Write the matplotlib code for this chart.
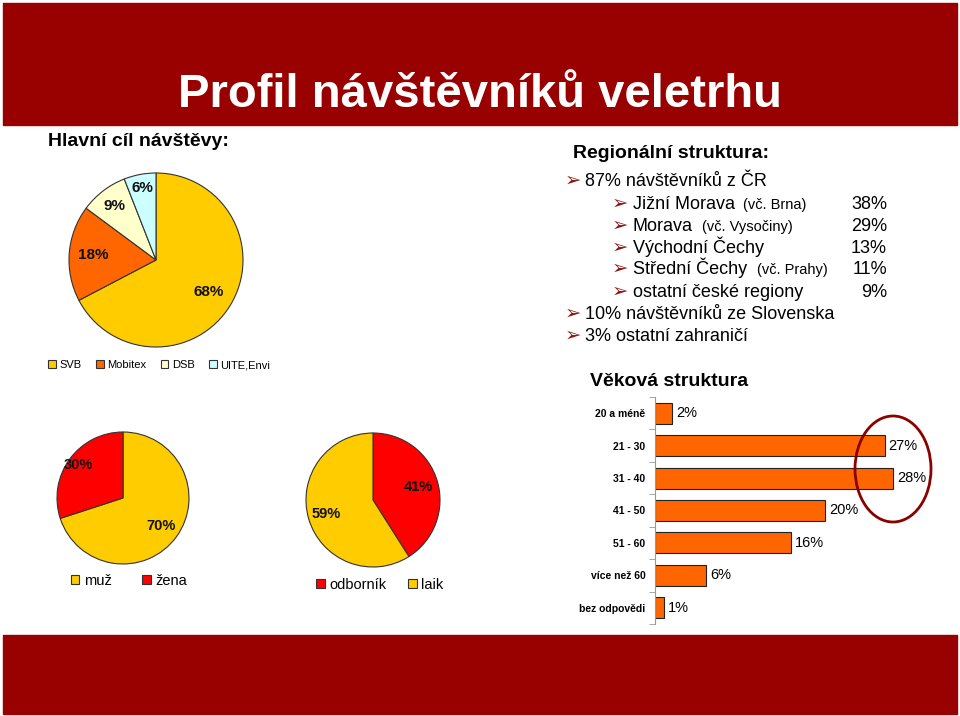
import numpy as np
import matplotlib
matplotlib.use("Agg")
import matplotlib.pyplot as plt
from matplotlib.patches import Rectangle, Ellipse

plt.rcParams['font.family'] = ['Liberation Sans', 'DejaVu Sans']

# data
cil_labels = ["SVB", "Mobitex", "DSB", "UITE,Envi"]
cil_values = [68, 18, 9, 6]
pohlavi_labels = ["muž", "žena"]
pohlavi_values = [70, 30]
odbornost_labels = ["odborník", "laik"]
odbornost_values = [41, 59]
vek_labels = ["20 a méně", "21 - 30", "31 - 40", "41 - 50", "51 - 60", "více než 60", "bez odpovědi"]
vek_values = [2, 27, 28, 20, 16, 6, 1]
region_main = ["87% návštěvníků z ČR", "10% návštěvníků ze Slovenska", "3% ostatní zahraničí"]
region_sub = ["Jižní Morava", "Morava", "Východní Čechy", "Střední Čechy", "ostatní české regiony"]
region_note = ["(vč. Brna)", "(vč. Vysočiny)", "", "(vč. Prahy)", ""]
region_pct = [38, 29, 13, 11, 9]

W, H = 960, 716
fig = plt.figure(figsize=(W / 100, H / 100), dpi=100)


def fx(x):
    return x / W


def fy(y):
    return 1 - y / H


# red bars top and bottom
fig.add_artist(Rectangle((fx(3), fy(125)), fx(954), 122 / H, transform=fig.transFigure,
                         color='#990000', zorder=0))
fig.add_artist(Rectangle((fx(3), fy(714)), fx(954), 79 / H, transform=fig.transFigure,
                         color='#990000', zorder=0))
fig.text(fx(480), fy(107), "Profil návštěvníků veletrhu", color='white', fontsize=34,
         fontweight='bold', ha='center', va='baseline')

YELLOW = '#FFCC00'
ORANGE = '#FF6600'
RED = '#FF0000'
EDGE = '#333333'


def draw_pie(cx, cy, r, values, colors, dists, fs):
    k = 1.04
    ax = fig.add_axes([fx(cx - r * k), fy(cy + r * k), 2 * r * k / W, 2 * r * k / H])
    wedges, _ = ax.pie(values, colors=colors, startangle=90, counterclock=False,
                       wedgeprops=dict(edgecolor=EDGE, linewidth=0.8))
    ax.set_xlim(-k, k)
    ax.set_ylim(-k, k)
    for w, v, d in zip(wedges, values, dists):
        t = np.deg2rad((w.theta1 + w.theta2) / 2)
        ax.text(d * np.cos(t), d * np.sin(t), f"{v}%", ha='center', va='center',
                fontsize=fs, fontweight='bold', color='#111111')
    return wedges


# Hlavní cíl návštěvy
fig.text(fx(48), fy(142), "Hlavní cíl návštěvy:", fontsize=14, fontweight='bold', va='center')
w1 = draw_pie(156, 260, 87, cil_values, [YELLOW, ORANGE, '#FFFFCC', '#CCFFFF'],
              [0.71, 0.72, 0.78, 0.84], 11)
fig.legend(w1, cil_labels, loc='center', bbox_to_anchor=(fx(159), fy(365)), ncol=4,
           frameon=False, fontsize=8, handlelength=0.7, handleheight=0.7,
           handletextpad=0.3, columnspacing=1.3)

# pohlaví
w2 = draw_pie(123, 498, 66, pohlavi_values, [YELLOW, RED], [0.72, 0.84], 10.5)
fig.legend(w2, pohlavi_labels, loc='center', bbox_to_anchor=(fx(129), fy(581)), ncol=2,
           frameon=False, fontsize=10.5, handlelength=0.6, handleheight=0.6,
           handletextpad=0.3, columnspacing=2.1)

# odbornost
w3 = draw_pie(373, 500, 67, odbornost_values, [RED, YELLOW], [0.71, 0.73], 10.5)
fig.legend(w3, odbornost_labels, loc='center', bbox_to_anchor=(fx(380), fy(585)), ncol=2,
           frameon=False, fontsize=10.5, handlelength=0.6, handleheight=0.6,
           handletextpad=0.3, columnspacing=1.5)

# Regionální struktura
BUL = '#8a1515'


def bullet(x, y):
    fig.text(fx(x), fy(y), "➢", fontsize=14, color=BUL, va='baseline')


fig.text(fx(573), fy(153), "Regionální struktura:", fontsize=14, fontweight='bold', va='center')
bullet(565, 186)
fig.text(fx(585), fy(186), region_main[0], fontsize=13, va='baseline')
sub_y = [209, 231, 253, 274, 297]
note_x = [743, 702, 0, 757, 0]
for lab, note, pct, y, nx in zip(region_sub, region_note, region_pct, sub_y, note_x):
    bullet(612, y)
    fig.text(fx(633), fy(y), lab, fontsize=13, va='baseline')
    if note:
        fig.text(fx(nx), fy(y), note, fontsize=10.5, va='baseline')
    fig.text(fx(887), fy(y), f"{pct}%", fontsize=13, va='baseline', ha='right')
for lab, y in zip(region_main[1:], [319, 341]):
    bullet(565, y)
    fig.text(fx(585), fy(y), lab, fontsize=13, va='baseline')

# Věková struktura
fig.text(fx(590), fy(382), "Věková struktura", fontsize=14, fontweight='bold', va='center')
x0, x28 = 655, 893
xmax = 30
axw = (x28 - x0) / 28 * xmax
ax = fig.add_axes([fx(x0), fy(624), axw / W, 227 / H])
pos = np.arange(len(vek_values))
bars = ax.barh(pos, vek_values, height=0.65, color=ORANGE, edgecolor='#222222', linewidth=0.8)
ax.set_ylim(len(vek_values) - 0.5, -0.5)
ax.set_xlim(0, xmax)
ax.set_yticks(pos, vek_labels, fontsize=7.5, fontweight='bold')
ax.tick_params(axis='y', which='major', length=0, pad=7)
ax.set_yticks(np.arange(-0.5, len(vek_values)), minor=True)
ax.tick_params(axis='y', which='minor', length=4, color='#999999')
ax.set_xticks([])
for s in ['top', 'right', 'bottom']:
    ax.spines[s].set_visible(False)
ax.spines['left'].set_color('#999999')
ax.bar_label(bars, labels=[f"{v}%" for v in vek_values], padding=3, fontsize=10.5)
ax.patch.set_alpha(0)

fig.add_artist(Ellipse((fx(893), fy(469)), 76 / W, 106 / H, transform=fig.transFigure,
                       fill=False, edgecolor='#8B0000', linewidth=2))

fig.savefig("out.png", dpi=100)
